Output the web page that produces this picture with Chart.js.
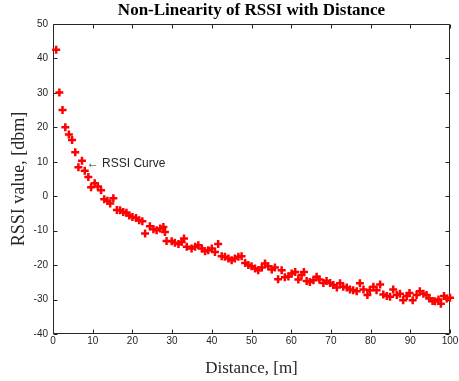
<!DOCTYPE html>
<html><head><meta charset="utf-8">
<script src="https://cdn.jsdelivr.net/npm/chart.js@4.4.0/dist/chart.umd.min.js"></script>
<style>html,body{margin:0;padding:0;background:#fff;}#wrap{width:459px;height:381px;}</style>
</head><body><div id="wrap"><canvas id="c" width="459" height="381"></canvas></div>
<script>
const distances = [0.8,1.6,2.4,3.1,4.0,4.8,5.6,6.4,7.3,8.0,8.9,9.6,10.5,11.3,12.1,12.9,13.7,14.4,15.2,16.1,16.9,17.7,18.5,19.2,20.0,20.9,21.7,22.5,23.2,24.4,25.3,26.1,27.0,27.8,28.2,28.6,29.9,30.7,31.6,32.4,33.0,33.7,34.9,35.8,36.6,37.5,38.3,39.1,40.0,40.8,41.6,42.5,43.3,44.2,45.0,45.8,46.7,47.5,48.4,49.2,50.0,50.9,51.7,52.6,53.4,54.2,55.1,55.9,56.7,57.6,58.4,59.3,60.1,61.0,61.8,62.6,63.2,63.9,64.7,65.6,66.4,67.1,68.1,68.9,69.8,70.6,71.5,72.3,73.1,74.0,74.8,75.6,76.5,77.3,78.2,79.2,79.8,80.7,81.5,82.4,83.2,84.1,84.9,85.7,86.6,87.4,88.2,89.1,89.8,90.6,91.6,92.4,93.3,94.1,94.8,95.6,96.2,97.1,97.7,98.5,99.2,100.0];
const rssiValues = [42.5,30.1,25.0,20.0,17.9,16.3,12.8,8.4,10.3,7.4,5.6,2.6,3.8,2.8,1.7,-0.9,-1.3,-2.1,-0.6,-4.0,-4.1,-4.6,-4.8,-5.6,-6.0,-6.3,-7.0,-7.3,-10.8,-8.7,-9.6,-9.9,-9.4,-8.9,-10.4,-13.0,-13.1,-13.5,-13.9,-13.3,-12.3,-14.7,-15.2,-14.7,-14.2,-15.2,-16.0,-15.7,-15.2,-16.2,-13.9,-17.4,-17.6,-18.1,-18.6,-18.1,-17.6,-17.4,-19.4,-20.0,-20.3,-21.0,-21.5,-20.7,-19.5,-20.3,-21.3,-20.7,-24.1,-21.5,-23.5,-23.3,-22.4,-22.0,-24.2,-22.9,-22.0,-24.6,-24.9,-24.4,-23.4,-24.2,-25.2,-24.6,-25.2,-25.8,-26.5,-25.3,-26.3,-26.5,-27.1,-27.3,-27.6,-25.3,-27.1,-28.7,-27.3,-26.3,-27.3,-25.6,-28.5,-29.0,-29.2,-27.1,-28.7,-28.3,-30.2,-29.0,-28.1,-30.2,-28.7,-27.6,-28.3,-28.7,-29.7,-30.4,-30.5,-30.0,-31.2,-29.0,-29.7,-29.5];
const xTicks = [0,10,20,30,40,50,60,70,80,90,100];
const yTicks = [-40,-30,-20,-10,0,10,20,30,40,50];
const titleText = 'Non-Linearity of RSSI with Distance';
const xLabel = 'Distance, [m]';
const yLabel = 'RSSI value, [dbm]';
const annotationText = '\u2190 RSSI Curve';
const annotationAt = {x: 8.5, y: 9.5};

const axisColor = '#262626';
const serif = "'Liberation Serif','Times New Roman',serif";
const sans = "'Liberation Sans',Arial,sans-serif";

const framePlugin = {
  id: 'frame',
  beforeDatasetsDraw(chart) {
    const {ctx, chartArea: a, scales} = chart;
    ctx.save();
    ctx.strokeStyle = axisColor;
    ctx.lineWidth = 1;
    const L = a.left + 0.5, R = a.right - 0.5, T = a.top + 0.5, B = a.bottom - 0.5;
    ctx.beginPath();
    ctx.rect(L, T, R - L, B - T);
    const tl = 4;
    scales.x.ticks.forEach(t => {
      const px = Math.round(scales.x.getPixelForValue(t.value)) + 0.5;
      ctx.moveTo(px, B); ctx.lineTo(px, B - tl);
      ctx.moveTo(px, T); ctx.lineTo(px, T + tl);
    });
    scales.y.ticks.forEach(t => {
      const py = Math.round(scales.y.getPixelForValue(t.value)) + 0.5;
      ctx.moveTo(L, py); ctx.lineTo(L + tl, py);
      ctx.moveTo(R, py); ctx.lineTo(R - tl, py);
    });
    ctx.stroke();
    ctx.restore();
  },
  afterDatasetsDraw(chart) {
    const {ctx, scales} = chart;
    ctx.save();
    ctx.fillStyle = axisColor;
    ctx.font = "12px " + sans;
    ctx.textAlign = 'left';
    ctx.textBaseline = 'middle';
    ctx.fillText(annotationText, scales.x.getPixelForValue(annotationAt.x), scales.y.getPixelForValue(annotationAt.y));
    ctx.restore();
  }
};

new Chart(document.getElementById('c'), {
  type: 'scatter',
  data: {
    datasets: [{
      data: distances.map((d, i) => ({x: d, y: rssiValues[i]})),
      pointStyle: 'cross',
      pointRadius: 4,
      pointHoverRadius: 4,
      pointBorderWidth: 2.5,
      pointBorderColor: '#ff0000',
      pointBackgroundColor: '#ff0000',
      clip: false
    }]
  },
  options: {
    responsive: false,
    animation: false,
    devicePixelRatio: 1,
    layout: {padding: {top: 0, right: 9, left: 0, bottom: 0}},
    plugins: {
      legend: {display: false},
      tooltip: {enabled: false},
      title: {
        display: true, text: titleText, color: '#000', fullSize: false,
        font: {family: serif, size: 17, weight: 'bold'},
        padding: {top: 0, bottom: 3.6}
      }
    },
    scales: {
      x: {
        type: 'linear', min: 0, max: 100,
        afterBuildTicks: s => { s.ticks = xTicks.map(v => ({value: v})); },
        grid: {display: false, drawTicks: false},
        border: {display: false},
        ticks: {font: {family: sans, size: 10}, color: axisColor, padding: 1, maxRotation: 0, autoSkip: false},
        title: {display: true, text: xLabel, color: axisColor, font: {family: serif, size: 17}, padding: {top: 0, bottom: 1.8}},
        afterFit: s => { s.height = 47; s.paddingLeft = 0; s.paddingRight = 0; }
      },
      y: {
        type: 'linear', min: -40, max: 50,
        afterBuildTicks: s => { s.ticks = yTicks.map(v => ({value: v})); },
        grid: {display: false, drawTicks: false},
        border: {display: false},
        ticks: {font: {family: sans, size: 10}, color: axisColor, padding: 5, autoSkip: false},
        title: {display: true, text: yLabel, color: axisColor, font: {family: serif, size: 18}, padding: {top: 8, bottom: 0}},
        afterFit: s => { s.width = 53; s.paddingTop = 0; s.paddingBottom = 0; }
      }
    }
  },
  plugins: [framePlugin]
});
</script>
</body></html>
